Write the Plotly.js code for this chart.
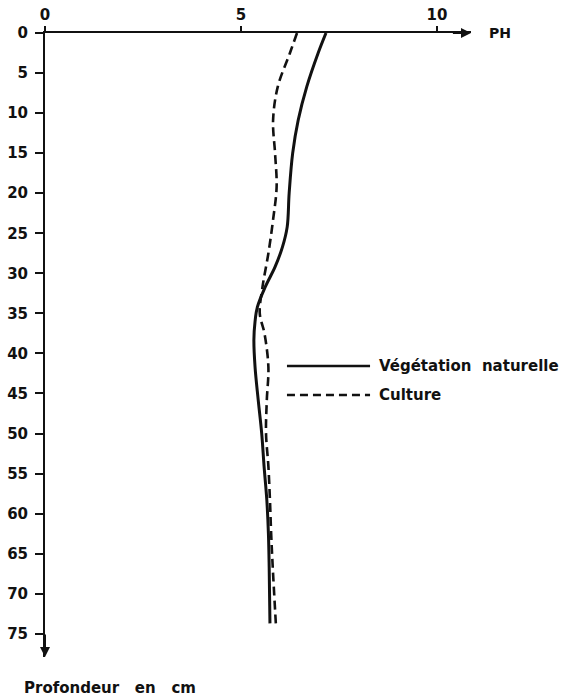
<!DOCTYPE html>
<html>
<head>
<meta charset="utf-8">
<script src="https://cdn.plot.ly/plotly-3.0.1.min.js"></script>
<style>html,body{margin:0;padding:0;background:#fff;}#chart{width:570px;height:698px;}</style>
</head>
<body>
<div id="chart"></div>
<script>
// Végétation naturelle (solid)
const depthNat = [0, 2.5, 6.7, 10.9, 15, 20, 24.2, 26.7, 29.2, 31.7, 34.2, 36, 38.3, 41.7, 45.8, 50, 54.1, 58.3, 62.4, 66.6, 73.7];
const phNat    = [7.17, 6.97, 6.68, 6.46, 6.32, 6.23, 6.18, 6.06, 5.87, 5.62, 5.42, 5.36, 5.33, 5.36, 5.44, 5.53, 5.59, 5.66, 5.70, 5.72, 5.74];
// Culture (dashed)
const depthCult = [0, 2.5, 6.7, 10.9, 15, 19.2, 23.3, 27.5, 31.7, 35, 37.5, 41.7, 45.8, 50, 54.1, 58.3, 62.4, 66.6, 73.7];
const phCult    = [6.43, 6.25, 5.94, 5.82, 5.87, 5.91, 5.82, 5.70, 5.55, 5.48, 5.60, 5.70, 5.66, 5.64, 5.70, 5.74, 5.77, 5.81, 5.89];

const xTicks = [0, 5, 10];
const yTicks = [0, 5, 10, 15, 20, 25, 30, 35, 40, 45, 50, 55, 60, 65, 70, 75];
const seriesNames = ['Végétation\u00A0 naturelle', 'Culture'];
const xLabel = 'PH';
const yLabel = 'Profondeur\u00A0\u00A0 en\u00A0\u00A0 cm';

const FONT = 'DejaVu Sans, sans-serif';

const traces = [
  {x: phNat, y: depthNat, mode: 'lines', name: seriesNames[0], showlegend: false,
   line: {color: '#111', width: 3, shape: 'spline', smoothing: 1}},
  {x: phCult, y: depthCult, mode: 'lines', name: seriesNames[1], showlegend: false,
   line: {color: '#111', width: 2.6, dash: '9px,5px', shape: 'spline', smoothing: 1}}
];

const xMax = 10.87, yMax = 77.9;

const legY = [0.4663, 0.4199];
const shapes = [
  {type: 'line', xref: 'paper', yref: 'paper', x0: 0.568, x1: 0.763, y0: legY[0], y1: legY[0], line: {color: '#111', width: 2.6}},
  {type: 'line', xref: 'paper', yref: 'paper', x0: 0.568, x1: 0.763, y0: legY[1], y1: legY[1], line: {color: '#111', width: 2.4, dash: '8px,5px'}}
];

const annotations = [
  {x: xMax, y: 0, ax: xMax - 0.5, ay: 0, xref: 'x', yref: 'y', axref: 'x', ayref: 'y', text: '', showarrow: true, arrowhead: 2, arrowsize: 1, arrowwidth: 2, arrowcolor: '#111'},
  {x: 0, y: yMax, ax: 0, ay: yMax - 3, xref: 'x', yref: 'y', axref: 'x', ayref: 'y', text: '', showarrow: true, arrowhead: 2, arrowsize: 1, arrowwidth: 2, arrowcolor: '#111'},
  {x: 1.0376, y: 1, xref: 'paper', yref: 'paper', xanchor: 'left', yanchor: 'middle', text: xLabel, showarrow: false,
   font: {family: FONT, size: 14, color: '#111', weight: 'bold'}},
  {x: -0.054, y: -0.0497, xref: 'paper', yref: 'paper', xanchor: 'left', yanchor: 'middle', text: yLabel, showarrow: false,
   font: {family: FONT, size: 15, color: '#111', weight: 'bold'}},
  {x: 0.779, y: legY[0], xref: 'paper', yref: 'paper', xanchor: 'left', yanchor: 'middle', text: seriesNames[0], showarrow: false,
   font: {family: FONT, size: 15, color: '#111', weight: 'bold'}},
  {x: 0.779, y: legY[1], xref: 'paper', yref: 'paper', xanchor: 'left', yanchor: 'middle', text: seriesNames[1], showarrow: false,
   font: {family: FONT, size: 15, color: '#111', weight: 'bold'}}
];

const layout = {
  width: 570, height: 698,
  margin: {l: 45, r: 99, t: 33, b: 41, pad: 0},
  paper_bgcolor: '#fff', plot_bgcolor: '#fff',
  showlegend: false,
  xaxis: {
    side: 'top', range: [0, xMax], tickvals: xTicks, ticktext: xTicks.map(String),
    showgrid: false, zeroline: false, showline: true, linecolor: '#111', linewidth: 2,
    ticks: 'outside', ticklen: 5, tickwidth: 2, tickcolor: '#111',
    tickfont: {family: FONT, size: 15, color: '#111', weight: 'bold'}
  },
  yaxis: {
    range: [yMax, 0], tickvals: yTicks, ticktext: yTicks.map(String),
    showgrid: false, zeroline: false, showline: true, linecolor: '#111', linewidth: 2,
    ticks: 'outside', ticklen: 8, tickwidth: 2, tickcolor: '#111', ticklabelstandoff: 4,
    tickfont: {family: FONT, size: 15, color: '#111', weight: 'bold'}
  },
  shapes: shapes,
  annotations: annotations
};

Plotly.newPlot('chart', traces, layout, {displayModeBar: false, staticPlot: true});
</script>
</body>
</html>
